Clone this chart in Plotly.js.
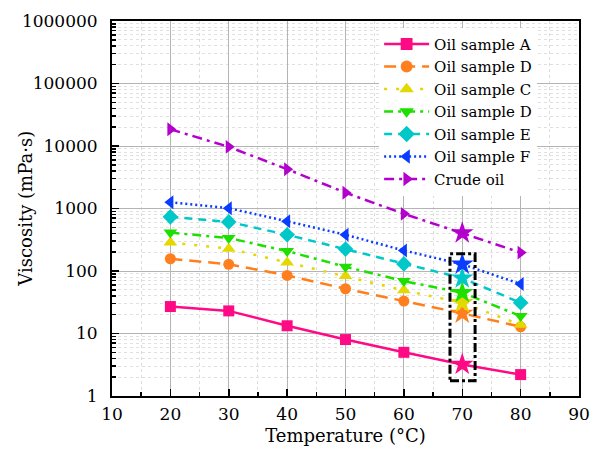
<!DOCTYPE html>
<html>
<head>
<meta charset="utf-8">
<script src="https://cdn.plot.ly/plotly-3.0.1.min.js"></script>
<style>html,body{margin:0;padding:0;background:#fff;}#chart{width:592px;height:459px;}</style>
</head>
<body>
<div id="chart"></div>
<script>
const temperature = [20, 30, 40, 50, 60, 70, 80];
const seriesNames = ["Oil sample A", "Oil sample D", "Oil sample C", "Oil sample D", "Oil sample E", "Oil sample F", "Crude oil"];
const sampleA = [27, 23, 13.3, 8, 5, 3.2, 2.2];
const sampleD1 = [157, 128, 85, 52, 33, 21, 12.8];
const sampleC = [285, 228, 137, 83, 49, 31, 13.8];
const sampleD2 = [412, 337, 208, 117, 69, 45, 19];
const sampleE = [735, 610, 380, 224, 130, 77, 31];
const sampleF = [1260, 1010, 625, 380, 213, 128, 62];
const crudeOil = [18500, 9700, 4250, 1790, 822, 405, 197];
const highlightTemp = 70;
const yTickVals = [1, 10, 100, 1000, 10000, 100000, 1000000];
const yTickText = ["1", "10", "100", "1000", "10000", "100000", "1000000"];
const xTickVals = [10, 20, 30, 40, 50, 60, 70, 80, 90];
const xTitle = "Temperature (°C)";
const yTitle = "Viscosity (mPa·s)";

const allSeries = [sampleA, sampleD1, sampleC, sampleD2, sampleE, sampleF, crudeOil];
const colors = ["#FF0A85", "#FF7F1E", "#E3D800", "#1EE000", "#00C8C8", "#0A3CFF", "#B400CC"];
const symbols = ["square", "circle", "triangle-up", "triangle-down", "diamond", "triangle-left", "triangle-right"];
const dashes = ["solid", "12px,7px", "3px,9px", "9px,5px,3px,5px", "8px,6px", "2px,3px", "10px,5px,3px,5px"];
const baseSizes = [11, 11, 12, 12, 12, 12, 12];

const traces = allSeries.map((vals, i) => ({
  x: temperature,
  y: vals,
  name: seriesNames[i],
  type: "scatter",
  mode: "lines+markers",
  line: {color: colors[i], width: 2.5, dash: dashes[i]},
  marker: {
    color: colors[i],
    opacity: 1,
    symbol: temperature.map(t => t === highlightTemp ? "star" : symbols[i]),
    size: temperature.map(t => t === highlightTemp ? 17 : baseSizes[i]),
    line: {width: 0}
  }
}));

const font = "DejaVu Serif";
const layout = {
  width: 592, height: 459,
  margin: {l: 112, r: 13, t: 21, b: 63},
  paper_bgcolor: "#fff", plot_bgcolor: "#fff",
  font: {family: font, size: 17, color: "#000"},
  showlegend: true,
  legend: {
    x: 0.572, y: 0.982, xanchor: "left", yanchor: "top",
    bgcolor: "#fff", borderwidth: 0,
    font: {family: font, size: 15, color: "#000"},
    tracegroupgap: 0, itemwidth: 45
  },
  xaxis: {
    range: [10, 90],
    tickmode: "array", tickvals: xTickVals,
    ticks: "inside", ticklen: 7, tickwidth: 1.5, tickcolor: "#000",
    showline: true, linecolor: "#000", linewidth: 2, mirror: true,
    showgrid: true, gridcolor: "#B4B4B4", gridwidth: 1,
    zeroline: false,
    tickfont: {family: font, size: 17},
    ticklabelstandoff: 2,
    title: {text: xTitle, font: {family: font, size: 18}, standoff: 6},
    minor: {dtick: 5, ticks: "inside", ticklen: 4, tickcolor: "#000", showgrid: true, gridcolor: "#DCDCDC", griddash: "dot", gridwidth: 1}
  },
  yaxis: {
    type: "log", range: [0, 6],
    tickmode: "array", tickvals: yTickVals, ticktext: yTickText,
    ticks: "inside", ticklen: 7, tickwidth: 1.5, tickcolor: "#000",
    showline: true, linecolor: "#000", linewidth: 2, mirror: true,
    showgrid: true, gridcolor: "#B4B4B4", gridwidth: 1,
    zeroline: false,
    tickfont: {family: font, size: 17},
    ticklabelstandoff: 9,
    minor: {dtick: "D1", ticks: "inside", ticklen: 4, tickcolor: "#000", showgrid: true, gridcolor: "#E0E0E0", griddash: "dot", gridwidth: 1}
  },
  annotations: [{
    text: yTitle, xref: "paper", yref: "paper", x: -0.186, y: 0.5,
    xanchor: "center", yanchor: "middle", textangle: -90, showarrow: false,
    font: {family: font, size: 18, color: "#000"}
  }],
  shapes: [{
    type: "rect", xref: "x", yref: "y",
    x0: 67.9, x1: 72.2, y0: 1.75, y1: 188,
    line: {color: "#000", width: 3, dash: "dashdot"},
    fillcolor: "rgba(0,0,0,0)"
  }]
};

Plotly.newPlot("chart", traces, layout, {displayModeBar: false, staticPlot: true});
</script>
</body>
</html>
